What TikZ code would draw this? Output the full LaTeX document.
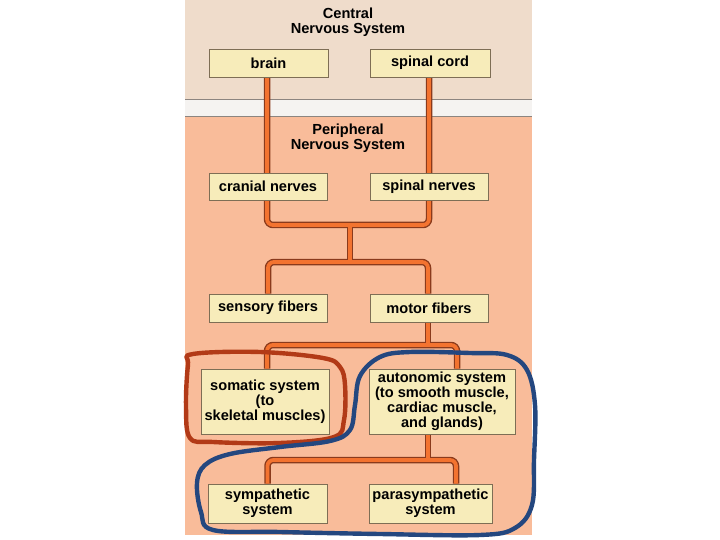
\documentclass[tikz,border=0pt]{standalone}
\usepackage{fontspec}
\setmainfont{Liberation Sans}
\definecolor{cnsbg}{HTML}{EFDCCB}
\definecolor{stripbg}{HTML}{F5F3F1}
\definecolor{pnsbg}{HTML}{F9BC9A}
\definecolor{sepline}{HTML}{8C8580}
\definecolor{boxfill}{HTML}{F7ECBA}
\definecolor{boxline}{HTML}{7E6E55}
\definecolor{pipedark}{HTML}{8A3A1C}
\definecolor{pipeorange}{HTML}{F37330}
\definecolor{redmark}{HTML}{B23A17}
\definecolor{bluemark}{HTML}{24477F}
\pgfdeclarelayer{bg}
\pgfdeclarelayer{pipes}
\pgfsetlayers{bg,pipes,main}
\begin{document}
\begin{tikzpicture}[x=1pt,y=-1pt,
  txt/.style={font=\fontsize{14.6}{15}\selectfont\bfseries, align=center, inner sep=0pt},
  box/.style={txt, draw=boxline, line width=0.9pt, fill=boxfill},
  pipeout/.style={draw=pipedark, line width=6.5pt, rounded corners=6pt},
  pipein/.style={draw=pipeorange, line width=3.8pt, rounded corners=6pt},
  handmark/.style={line width=4.4pt, line join=round}]
\useasboundingbox (0,0) rectangle (720,540);
\begin{pgfonlayer}{bg}
  \fill[cnsbg] (185,0) rectangle (532,100);
  \fill[stripbg] (185,100) rectangle (532,117);
  \fill[pnsbg] (185,117) rectangle (532,535);
  \draw[sepline, line width=1pt] (185,100) -- (532,100);
  \draw[sepline, line width=1pt] (185,117) -- (532,117);
\end{pgfonlayer}
% titles
\node[txt] (cns) at (348,22) {Central\\Nervous System};
\node[txt] (pns) at (348,138) {Peripheral\\Nervous System};
% boxes
\node[box, minimum width=119pt, minimum height=28pt] (brain) at (268.5,63) {brain};
\node[box, minimum width=120pt, minimum height=28pt] (cord) at (430,63) {spinal cord};
\node[box, minimum width=118pt, minimum height=27pt] (cranial) at (268,186.5) {cranial nerves};
\node[box, minimum width=118pt, minimum height=27pt] (spnerves) at (429,186.5) {spinal nerves};
\node[box, minimum width=118pt, minimum height=28pt] (sensory) at (268,308) {sensory fibers};
\node[box, minimum width=118pt, minimum height=28pt] (motor) at (429,308) {motor fibers};
\node[box, minimum width=128pt, minimum height=65pt] (somatic) at (265,401.5) {somatic system\\(to\\skeletal muscles)};
\node[box, minimum width=146pt, minimum height=65pt] (auto) at (442,401.5) {autonomic system\\(to smooth muscle,\\cardiac muscle,\\and glands)};
\node[box, minimum width=119pt, minimum height=39pt] (symp) at (267.5,503.5) {sympathetic\\system};
\node[box, minimum width=123pt, minimum height=39pt] (para) at (430.5,503.5) {parasympathetic\\system};
% junctions
\coordinate (j1) at (350,225);
\coordinate (j2) at (350,262);
\coordinate (j3) at (428,345);
\coordinate (j4) at (428,460);
% connectors
\begin{pgfonlayer}{pipes}
\foreach \s in {pipeout,pipein}{
  \draw[\s] ([xshift=-1.5pt]brain.south) |- (j1) -| ([xshift=-1pt]cord.south);
  \draw[\s] (j1) -- (j2);
  \draw[\s] (sensory.north) |- (j2) -| ([xshift=-1pt]motor.north);
  \draw[\s] ([xshift=-1pt]motor.south) -- (j3);
  \draw[\s] ([xshift=2pt]somatic.north) |- (j3) -| ([xshift=15pt]auto.north);
  \draw[\s] ([xshift=-14pt]auto.south) -- (j4);
  \draw[\s] (symp.north) |- (j4) -| ([xshift=25.5pt]para.north);
}
\end{pgfonlayer}
% hand-drawn marks
\draw[handmark, redmark] plot[smooth cycle, tension=0.6] coordinates {
  (193,354) (260,352) (323,358) (340,367) (345,385) (344,420) (334,437)
  (280,443) (213,442) (190,438) (186,407) (188,365)};
\draw[handmark, bluemark] plot[smooth cycle, tension=0.6] coordinates {
  (355,405) (360,376) (380,357) (410,352) (470,353) (507,355) (527,370)
  (535,405) (534,460) (532,505) (515,528) (480,535) (380,534) (280,532)
  (213,530) (201,512) (197,483) (205,465) (230,454) (280,447) (330,441) (350,430)};
\end{tikzpicture}
\end{document}
